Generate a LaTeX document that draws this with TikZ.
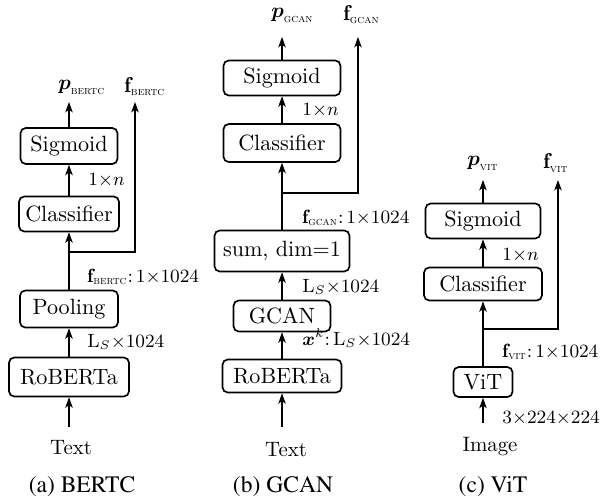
\documentclass[tikz,border=0pt]{standalone}
\usepackage[T1]{fontenc}
\usepackage{fontspec}
\usepackage{amsmath}
\usetikzlibrary{arrows.meta}
\newcommand{\capfont}{\fontencoding{T1}\fontfamily{ptm}\selectfont}
\newcommand{\subsc}[1]{\text{\fontsize{5.6}{6}\selectfont\textsc{#1}}}
\newcommand{\tm}{{\times}}
\begin{document}
\begin{tikzpicture}[x=0.48pt,y=-0.48pt,
 box/.style={draw, line width=0.8pt, rounded corners=2.5pt, inner sep=0pt, font=\fontsize{10.6}{12}\selectfont},
 bw/.style={minimum width=#1*0.48pt},
 bh/.style={minimum height=#1*0.48pt},
 arr/.style={-{Stealth[length=5pt,width=3.6pt,inset=1.3pt]}, line width=0.5pt},
 lbl/.style={anchor=west, inner sep=0pt, font=\fontsize{9.2}{11}\selectfont},
 outl/.style={anchor=west, inner sep=0pt, font=\fontsize{10.3}{12}\selectfont},
 inl/.style={inner sep=0pt, font=\fontsize{10}{12}\selectfont},
 captxt/.style={inner sep=0pt, font=\fontsize{11.3}{13}\capfont}]
\useasboundingbox (0,0) rectangle (600,501);

% ---------- (a) BERTC ----------
\node[box,bw=97,bh=36] (aSig) at (69,146) {Sigmoid};
\node[box,bw=100,bh=35] (aCls) at (69,214) {Classifier};
\node[box,bw=98,bh=37] (aPool) at (69,309) {Pooling};
\node[box,bw=120,bh=39] (aRob) at (69,377) {RoBERTa};
\coordinate (aPend) at (69,102);
\coordinate (aFend) at (135,102);
\coordinate (aBr) at (69,252);
\coordinate (aIn) at (69,427);
\draw[arr] (aSig) -- (aPend);
\draw[arr] (aCls) -- (aSig);
\draw[arr] (aPool) -- (aCls);
\draw[arr] (aBr) -| (aFend);
\draw[arr] (aRob) -- (aPool);
\draw[arr] (aIn) -- (aRob);
\node[outl] (aP) at (58,87) {$\boldsymbol{p}_{\subsc{bertc}}$};
\node[outl] (aF) at (124,87) {$\mathbf{f}_{\subsc{bertc}}$};
\node[lbl] (aL1) at (88,180) {$1\tm n$};
\node[lbl] (aL2) at (87,277) {$\mathbf{f}_{\subsc{bertc}}$:\hspace{0.15em}$1\tm1024$};
\node[lbl] (aL3) at (87,342) {$\mathrm{L}_S\tm1024$};
\node[inl] (aText) at (71,448) {Text};
\node[captxt] (aCap) at (82,487) {(a) BERTC};

% ---------- (b) GCAN ----------
\node[box,bw=117,bh=35] (bSig) at (282,78) {Sigmoid};
\node[box,bw=117,bh=38] (bCls) at (282,143) {Classifier};
\node[box,bw=135,bh=41] (bSum) at (282,251) {sum, dim=1};
\node[box,bw=97,bh=31] (bGcan) at (282,316) {GCAN};
\node[box,bw=119,bh=33] (bRob) at (282,376) {RoBERTa};
\coordinate (bPend) at (282,37);
\coordinate (bFend) at (358,37);
\coordinate (bBr) at (282,193);
\coordinate (bIn) at (282,427);
\draw[arr] (bSig) -- (bPend);
\draw[arr] (bCls) -- (bSig);
\draw[arr] (bSum) -- (bCls);
\draw[arr] (bBr) -| (bFend);
\draw[arr] (bGcan) -- (bSum);
\draw[arr] (bRob) -- (bGcan);
\draw[arr] (bIn) -- (bRob);
\node[outl] (bP) at (271,15) {$\boldsymbol{p}_{\subsc{gcan}}$};
\node[outl] (bF) at (343,15) {$\mathbf{f}_{\subsc{gcan}}$};
\node[lbl] (bL1) at (302,110) {$1\tm n$};
\node[lbl] (bL2) at (302,218) {$\mathbf{f}_{\subsc{gcan}}$:\hspace{0.15em}$1\tm1024$};
\node[lbl] (bL3) at (302,287) {$\mathrm{L}_S\tm1024$};
\node[lbl] (bL4) at (302,338) {$\boldsymbol{x}^k$:\hspace{0.15em}$\mathrm{L}_S\tm1024$};
\node[inl] (bText) at (286,450) {Text};
\node[captxt] (bCap) at (283,487) {(b) GCAN};

% ---------- (c) ViT ----------
\node[box,bw=115,bh=35] (cSig) at (483,221) {Sigmoid};
\node[box,bw=118,bh=33] (cCls) at (483,284) {Classifier};
\node[box,bw=59,bh=30] (cVit) at (483,382) {ViT};
\coordinate (cPend) at (483,180);
\coordinate (cFend) at (558,180);
\coordinate (cBr) at (483,329);
\coordinate (cIn) at (483,423);
\draw[arr] (cSig) -- (cPend);
\draw[arr] (cCls) -- (cSig);
\draw[arr] (cVit) -- (cCls);
\draw[arr] (cBr) -| (cFend);
\draw[arr] (cIn) -- (cVit);
\node[outl] (cP) at (467,163) {$\boldsymbol{p}_{\subsc{vit}}$};
\node[outl] (cF) at (543,163) {$\mathbf{f}_{\subsc{vit}}$};
\node[lbl] (cL1) at (502,255) {$1\tm n$};
\node[lbl] (cL2) at (502,352) {$\mathbf{f}_{\subsc{vit}}$:\hspace{0.15em}$1\tm1024$};
\node[lbl] (cL3) at (502,418) {$3\tm224\tm224$};
\node[inl] (cImg) at (490,447) {Image};
\node[captxt] (cCap) at (493,487) {(c) ViT};
\end{tikzpicture}
\end{document}
